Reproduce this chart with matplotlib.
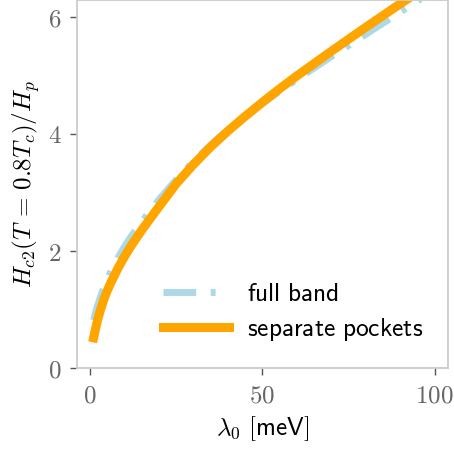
import matplotlib
matplotlib.use("Agg")
import matplotlib.pyplot as plt
from matplotlib.ticker import FuncFormatter

plt.rcParams['mathtext.fontset'] = 'cm'

# coupling strength lambda_0 [meV]
lam0 = [1, 2, 3, 4, 5, 6, 8, 10, 12, 15, 20, 25, 30, 35, 40, 45, 50, 55,
        60, 70, 80, 90, 99]
# Hc2(T = 0.8 Tc) / Hp
hc2_full_band = [0.82, 1.04, 1.22, 1.38, 1.52, 1.65, 1.88, 2.08, 2.26, 2.50,
                 2.88, 3.22, 3.53, 3.81, 4.07, 4.30, 4.52, 4.73, 4.93, 5.32,
                 5.70, 6.08, 6.42]
hc2_pockets = [0.52, 0.79, 1.00, 1.18, 1.33, 1.46, 1.70, 1.91, 2.10, 2.36,
               2.76, 3.15, 3.48, 3.78, 4.05, 4.30, 4.54, 4.77, 4.99, 5.41,
               5.82, 6.22, 6.57]

fig = plt.figure(figsize=(4.54, 4.51), dpi=100)
ax = fig.add_axes([0.169, 0.1834, 0.818, 0.8166])

ax.plot(lam0, hc2_full_band, color='lightblue', lw=5,
        linestyle=(0, (4.7, 2.1, 0.7, 2.1)), label=r'$\mathsf{full\ band}$')
ax.plot(lam0, hc2_pockets, color='orange', lw=6.5,
        label=r'$\mathsf{separate\ pockets}$')

ax.set_ylim(0, 6.285)
ax.set_xticks([0, 50, 100])
ax.set_yticks([0, 2, 4, 6])
ax.xaxis.set_major_formatter(FuncFormatter(lambda v, p: r'$%d$' % v))
ax.yaxis.set_major_formatter(FuncFormatter(lambda v, p: r'$%d$' % v))
ax.tick_params(direction='out', length=5, width=1, color='#555555',
               labelcolor='#666666', labelsize=18, pad=6)
for s in ax.spines.values():
    s.set_color('#cccccc')
    s.set_linewidth(1.3)

ax.set_xlabel(r'$\lambda_0$ $\mathsf{[meV]}$', fontsize=18, labelpad=5)
ax.set_ylabel(r'$H_{c2}(T\,=\,0.8T_c)/H_p$', fontsize=18, labelpad=4)

ax.legend(loc='lower right', frameon=False, fontsize=18.3, handlelength=2.6,
          handletextpad=0.7, borderaxespad=0.6, labelspacing=0.4)

fig.savefig('out.png', dpi=100)
